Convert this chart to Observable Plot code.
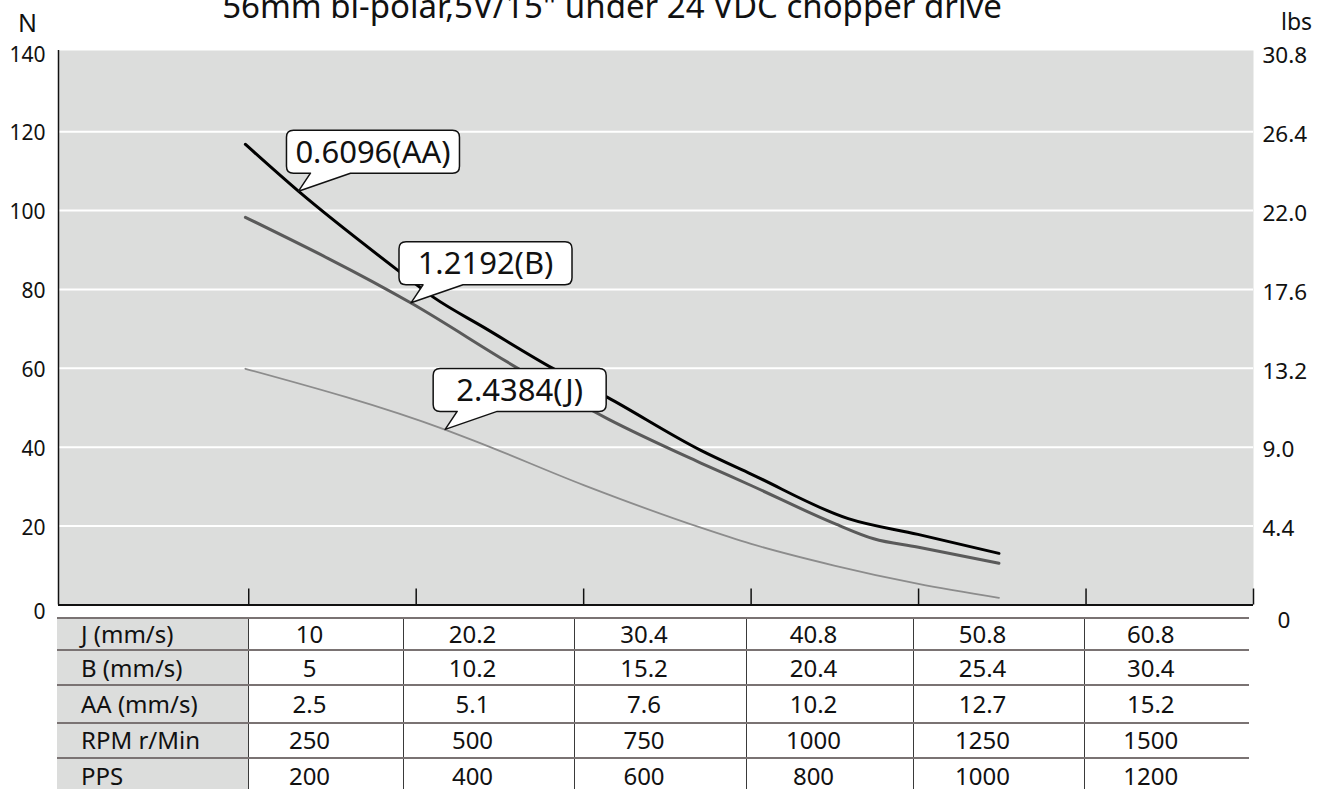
<!DOCTYPE html>
<html>
<head>
<meta charset="utf-8">
<script src="https://cdn.jsdelivr.net/npm/d3@7"></script>
<script src="https://cdn.jsdelivr.net/npm/@observablehq/plot@0.6"></script>
<style>
  html, body { margin: 0; padding: 0; background: #fff; width: 1320px; height: 789px; overflow: hidden; }
  #wrap { position: relative; width: 1320px; height: 789px; }
  #chart { position: absolute; left: 0; top: 0; }
  #tbl { position: absolute; left: 57px; top: 617px; border-collapse: collapse; table-layout: fixed; width: 1192px;
         font-family: "Noto Sans", sans-serif; font-size: 24px; color: #111; }
  #tbl td { padding: 0 32px 0 0; border-top: 2px solid #7a7373; text-align: center; line-height: 1; white-space: nowrap; }
  #tbl td.lab { background: #dcdddc; text-align: left; padding: 0 0 0 24px; }
  #tbl td.val { border-left: 1.5px solid #3a3a3a; }
</style>
</head>
<body>
<div id="wrap">
  <div id="chart"></div>
  <table id="tbl"><colgroup id="cols"></colgroup><tbody id="tbody"></tbody></table>
</div>
<script>
// ---- data ----
const title = ['56mm bi-polar,5V/15" under 24 VDC chopper drive'];
const leftUnit = ["N"];
const rightUnit = ["lbs"];
const nTicks = [0, 20, 40, 60, 80, 100, 120, 140];
const lbsLabels = ["0", "4.4", "9.0", "13.2", "17.6", "22.0", "26.4", "30.8"];
const xTicks = [250, 500, 750, 1000, 1250, 1500, 1750];

// thrust curves (N) against speed (RPM)
const aaRpm = [245, 325, 477, 526, 601, 704, 785, 925, 1000, 1145, 1249, 1370];
const aaN   = [116.8, 104.8, 84.3, 78.0, 70.4, 60.0, 52.7, 39.2, 33.2, 21.9, 17.9, 13.1];
const bRpm  = [245, 493, 653, 786, 925, 1000, 1124, 1183, 1248, 1370];
const bN    = [98.3, 76.5, 59.9, 47.2, 36.0, 30.3, 20.7, 16.8, 14.7, 10.6];
const jRpm  = [245, 544, 586, 750, 925, 1000, 1124, 1248, 1370];
const jN    = [59.9, 44.4, 41.7, 30.4, 19.6, 15.5, 10.0, 5.4, 1.8];

// callouts
const calloutLabels = ["0.6096(AA)", "1.2192(B)", "2.4384(J)"];
const calloutRpm = [325, 493, 544];
const calloutN = [104.8, 76.5, 44.4];

// table
const rowLabels = ["J (mm/s)", "B (mm/s)", "AA (mm/s)", "RPM r/Min", "PPS"];
const jSpeed  = ["10", "20.2", "30.4", "40.8", "50.8", "60.8"];
const bSpeed  = ["5", "10.2", "15.2", "20.4", "25.4", "30.4"];
const aaSpeed = ["2.5", "5.1", "7.6", "10.2", "12.7", "15.2"];
const rpmRow  = ["250", "500", "750", "1000", "1250", "1500"];
const ppsRow  = ["200", "400", "600", "800", "1000", "1200"];

// ---- build ----
const toRows = (xs, ys) => xs.map((x, i) => ({rpm: x, n: ys[i]}));
const aaData = toRows(aaRpm, aaN);
const bData = toRows(bRpm, bN);
const jData = toRows(jRpm, jN);
const callouts = calloutLabels.map((l, i) => ({label: l, rpm: calloutRpm[i], n: calloutN[i]}));
const lbsMap = new Map(nTicks.map((d, i) => [d, lbsLabels[i]]));
const upperTicks = nTicks.filter(d => d > 0);
const zeroTick = nTicks.filter(d => d === 0);

const W = 1320, H = 640, mT = 50, mB = 35.5, mL = 58, mR = 67;
const innerH = H - mT - mB;
const xDomain = [-34, 1750];

function calloutRender(index, scales, values) {
  const g = d3.create("svg:g");
  const w = 173, h = 43, r = 7;
  for (const i of index) {
    const px = values.x[i], py = values.y[i];
    const bx = px - 12, by = py - 18 - h, bb = by + h;
    const p = `M${bx + r},${by}H${bx + w - r}Q${bx + w},${by} ${bx + w},${by + r}V${bb - r}Q${bx + w},${bb} ${bx + w - r},${bb}` +
              `H${px + 52}L${px},${py}L${px + 12},${bb}H${bx + r}Q${bx},${bb} ${bx},${bb - r}V${by + r}Q${bx},${by} ${bx + r},${by}Z`;
    g.append("path").attr("d", p).attr("fill", "white").attr("stroke", "#111").attr("stroke-width", 1.5).attr("stroke-linejoin", "round");
    g.append("text").attr("x", bx + w / 2).attr("y", by + h / 2).attr("dy", "0.35em")
      .attr("text-anchor", "middle").attr("font-size", 31).attr("fill", "#111")
      .text(callouts[i].label);
  }
  return g.node();
}

const plot = Plot.plot({
  width: W, height: H,
  marginTop: mT, marginBottom: mB, marginLeft: mL, marginRight: mR,
  x: {domain: xDomain, axis: null},
  y: {domain: [0, 140.6], axis: null},
  style: {fontFamily: "'Noto Sans', sans-serif", background: "transparent", color: "#111", overflow: "visible"},
  marks: [
    Plot.frame({fill: "#dcdddc", stroke: null}),
    Plot.ruleY(nTicks.filter(d => d > 0 && d < 140), {stroke: "white", strokeWidth: 2}),
    Plot.ruleX(xTicks, {insetTop: innerH - 16, stroke: "#111", strokeWidth: 1.5}),
    Plot.ruleY([0], {stroke: "#111", strokeWidth: 2}),
    Plot.ruleX([xDomain[0]], {stroke: "#111", strokeWidth: 1.5}),
    Plot.axisY(upperTicks, {anchor: "left", tickSize: 0, tickPadding: 13, fontSize: 21, label: null, dy: 2}),
    Plot.axisY(zeroTick, {anchor: "left", tickSize: 0, tickPadding: 13, fontSize: 21, label: null, dy: 7}),
    Plot.axisY(upperTicks, {anchor: "right", tickSize: 0, tickPadding: 9, fontSize: 22.5, label: null, dy: 3, tickFormat: d => lbsMap.get(d)}),
    Plot.axisY(zeroTick, {anchor: "right", tickSize: 0, tickPadding: 24, fontSize: 22.5, label: null, dy: 16, tickFormat: d => lbsMap.get(d)}),
    Plot.line(jData, {x: "rpm", y: "n", stroke: "#8c8c8c", strokeWidth: 1.8, curve: "monotone-x"}),
    Plot.line(bData, {x: "rpm", y: "n", stroke: "#5a5a5a", strokeWidth: 3, curve: "monotone-x"}),
    Plot.line(aaData, {x: "rpm", y: "n", stroke: "#000", strokeWidth: 3, curve: "monotone-x"}),
    Plot.dot(callouts, {x: "rpm", y: "n", r: 0, render: calloutRender}),
    Plot.text(title, {frameAnchor: "top", lineAnchor: "middle", dx: -44, dy: -42.6, fontSize: 33, fill: "#111"}),
    Plot.text(leftUnit, {frameAnchor: "top-left", lineAnchor: "middle", textAnchor: "middle", dx: -31, dy: -27, fontSize: 25, fill: "#111"}),
    Plot.text(rightUnit, {frameAnchor: "top-right", lineAnchor: "middle", textAnchor: "middle", dx: 43, dy: -27.6, fontSize: 23, fill: "#111"})
  ]
});
document.getElementById("chart").appendChild(plot);

// table
const colWidths = [191, 155, 171, 172, 167, 171, 165];
const rowHeights = [32.3, 35, 37.7, 34.6, 36];
const cols = document.getElementById("cols");
colWidths.forEach(w => { const c = document.createElement("col"); c.style.width = w + "px"; cols.appendChild(c); });
const tbody = document.getElementById("tbody");
const rowValues = [jSpeed, bSpeed, aaSpeed, rpmRow, ppsRow];
rowLabels.forEach((lab, r) => {
  const tr = document.createElement("tr");
  tr.style.height = rowHeights[r] + "px";
  const th = document.createElement("td");
  th.className = "lab"; th.textContent = lab; tr.appendChild(th);
  rowValues[r].forEach(v => { const td = document.createElement("td"); td.className = "val"; td.textContent = v; tr.appendChild(td); });
  tbody.appendChild(tr);
});
</script>
</body>
</html>
